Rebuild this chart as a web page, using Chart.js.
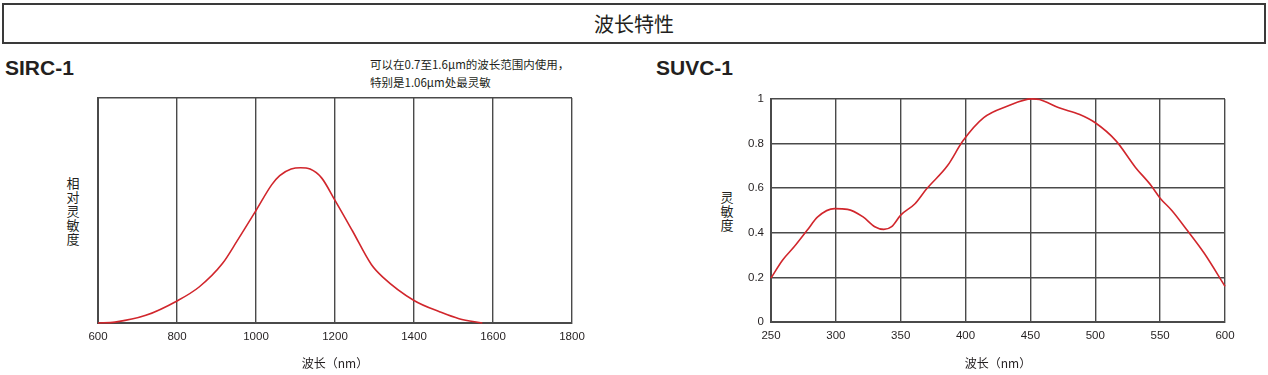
<!DOCTYPE html>
<html>
<head>
<meta charset="utf-8">
<script src="https://cdn.jsdelivr.net/npm/chart.js@4/dist/chart.umd.min.js"></script>
<style>
  body { margin: 0; width: 1268px; height: 375px; background: #fff; position: relative; overflow: hidden;
         font-family: "Noto Sans CJK SC", "Liberation Sans", sans-serif; color: #231f20; }
  .abs { position: absolute; }
  #banner { left: 2px; top: 3px; width: 1264px; height: 41px; box-sizing: border-box; border: 2px solid #3a3a3a;
            text-align: center; font-size: 20px; line-height: 37px; }
  .model { font-family: "Liberation Sans", Arial, sans-serif; font-weight: bold; font-size: 21px; line-height: 24px; }
  .note { font-size: 11.5px; line-height: 18px; white-space: nowrap; }
  .ytitle { font-size: 13px; line-height: 14px; width: 14px; text-align: center; }
  canvas { position: absolute; }
</style>
</head>
<body>
<div id="banner" class="abs">波长特性</div>
<div class="abs model" style="left:5px; top:56px;">SIRC-1</div>
<div class="abs model" style="left:656px; top:56px;">SUVC-1</div>
<div class="abs note" style="left:370px; top:55px;">可以在0.7至1.6μm的波长范围内使用，<br>特别是1.06μm处最灵敏</div>
<div class="abs ytitle" style="left:66px; top:176px;">相<br>对<br>灵<br>敏<br>度</div>
<div class="abs ytitle" style="left:720px; top:190px;">灵<br>敏<br>度</div>

<canvas id="c_sirc" width="620" height="290" style="left:0px; top:85px;"></canvas>
<canvas id="c_suvc" width="628" height="290" style="left:640px; top:85px;"></canvas>

<script>
// SIRC-1 relative sensitivity
const sircWavelength = [600, 643, 721, 800, 856, 915, 953, 1000, 1040, 1060, 1089, 1113, 1137, 1166, 1200, 1244, 1292, 1321, 1400, 1466, 1514, 1573];
const sircResponse = [0, 0.004, 0.034, 0.098, 0.16, 0.264, 0.367, 0.5, 0.615, 0.655, 0.684, 0.69, 0.684, 0.645, 0.545, 0.41, 0.26, 0.204, 0.1, 0.049, 0.019, 0];

// SUVC-1 sensitivity
const suvcWavelength = [250, 259, 268, 278, 286, 299, 309, 321, 330, 337, 343, 350, 361, 370, 386, 398, 414, 432, 451, 457, 472, 488, 500, 516, 531, 543, 550, 559, 571, 584, 600];
const suvcResponse = [0.197, 0.278, 0.338, 0.412, 0.471, 0.508, 0.505, 0.471, 0.427, 0.415, 0.427, 0.479, 0.53, 0.597, 0.7, 0.812, 0.916, 0.967, 1.0, 0.997, 0.96, 0.93, 0.893, 0.812, 0.693, 0.612, 0.555, 0.5, 0.41, 0.308, 0.16];

const xTitle = "波长（nm）";
const RED = "#d1262c";
const GRID = "#4a4a4a";
const TICK = "#231f20";
const tickFont = { family: "'Liberation Sans', Arial, sans-serif", size: 11.5 };
const titleFont = { family: "'Noto Sans CJK SC', sans-serif", size: 12 };
const plain = (v) => String(+Number(v).toFixed(2));

function curveChart(id, xs, ys, opts) {
  return new Chart(document.getElementById(id), {
    type: "line",
    data: {
      datasets: [{
        data: xs.map((x, i) => ({ x, y: ys[i] })),
        borderColor: RED, borderWidth: 1.6, pointRadius: 0, cubicInterpolationMode: "monotone", fill: false, clip: false,
      }],
    },
    options: {
      responsive: false, animation: false, devicePixelRatio: 1,
      layout: { padding: { top: opts.padTop, right: opts.padRight, left: 0, bottom: 0 } },
      plugins: { legend: { display: false }, tooltip: { enabled: false } },
      scales: {
        x: {
          type: "linear", min: opts.xMin, max: opts.xMax,
          ticks: { stepSize: opts.xStep, color: TICK, font: tickFont, padding: 7, maxRotation: 0, autoSkip: false, callback: plain },
          grid: { color: GRID, lineWidth: 1.4, drawTicks: false },
          border: { color: GRID, width: 2 },
          title: { display: true, text: xTitle, color: TICK, font: titleFont, padding: { top: 0, bottom: 4 } },
          afterFit: (s) => { s.height = opts.xHeight; },
        },
        y: {
          min: 0, max: 1,
          ticks: { stepSize: opts.yStep, display: opts.yLabels, color: TICK, font: tickFont, padding: 7, callback: plain },
          grid: { color: GRID, lineWidth: 1.4, drawTicks: false },
          border: { color: GRID, width: 2 },
          afterFit: (s) => { s.width = opts.yWidth; },
        },
      },
    },
  });
}

curveChart("c_sirc", sircWavelength, sircResponse, {
  xMin: 600, xMax: 1800, xStep: 200, yStep: 1, yLabels: false,
  padTop: 13, padRight: 48, xHeight: 52, yWidth: 98,
});

curveChart("c_suvc", suvcWavelength, suvcResponse, {
  xMin: 250, xMax: 600, xStep: 50, yStep: 0.2, yLabels: true,
  padTop: 13, padRight: 43, xHeight: 53, yWidth: 131,
});
</script>
</body>
</html>
